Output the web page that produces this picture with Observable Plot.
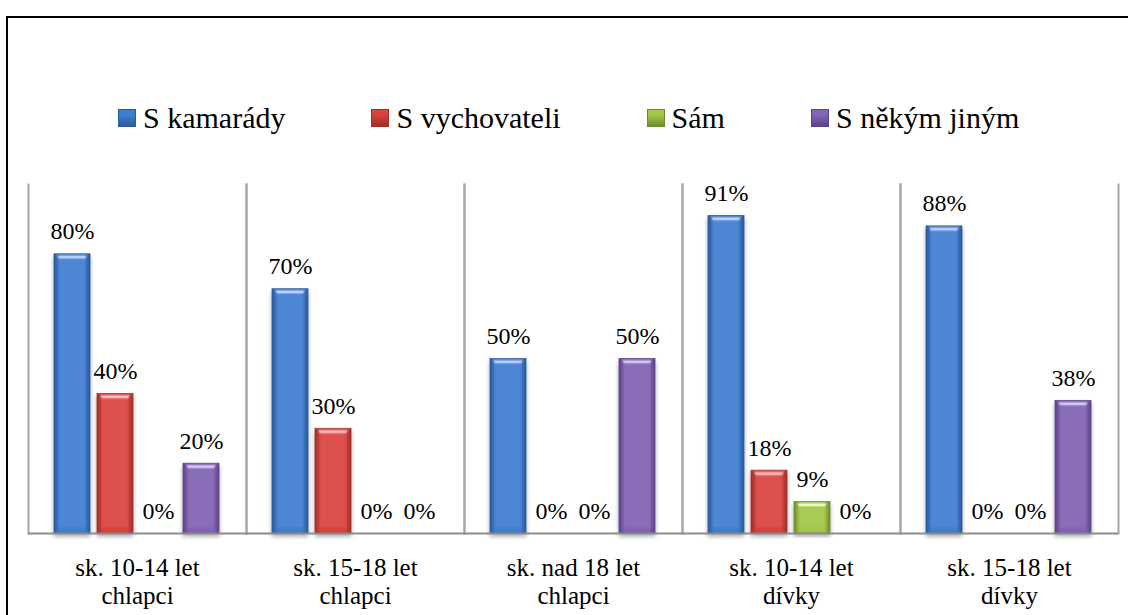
<!DOCTYPE html>
<html>
<head>
<meta charset="utf-8">
<script src="https://cdn.jsdelivr.net/npm/d3@7"></script>
<script src="https://cdn.jsdelivr.net/npm/@observablehq/plot@0.6"></script>
<style>
  html, body { margin: 0; padding: 0; background: #fff; }
  #wrap { position: relative; width: 1128px; height: 615px; overflow: hidden; font-family: "Liberation Serif", "LiberationSerif", Tinos, "Noto Serif", "DejaVu Serif", FreeSerif, "Nimbus Roman", "Nimbus Roman No9 L", "Times New Roman", Times, serif; }
  #border { position: absolute; left: 6px; top: 16px; width: 1200px; height: 700px; border: 2px solid #000; box-sizing: border-box; }
  #legend { position: absolute; left: 118px; top: 103px; display: flex; align-items: center; gap: 86px; font-size: 30px; color: #000; line-height: 30px; }
  .item { display: flex; align-items: center; gap: 7px; white-space: nowrap; }
  .sw { width: 18px; height: 18px; box-sizing: border-box; }
  #chart { position: absolute; left: 0; top: 150px; }
  #chart svg text { font-family: "Liberation Serif", "LiberationSerif", Tinos, "Noto Serif", "DejaVu Serif", FreeSerif, "Nimbus Roman", "Nimbus Roman No9 L", "Times New Roman", Times, serif; }
</style>
</head>
<body>
<div id="wrap">
  <div id="border"></div>
  <div id="legend"></div>
  <div id="chart"></div>
</div>
<script>
const groupLine1 = ["sk. 10-14 let", "sk. 15-18 let", "sk. nad 18 let", "sk. 10-14 let", "sk. 15-18 let"];
const groupLine2 = ["chlapci", "chlapci", "chlapci", "dívky", "dívky"];
const series = ["S kamarády", "S vychovateli", "Sám", "S někým jiným"];
const kamarady = [80, 70, 50, 91, 88];
const vychovateli = [40, 30, 0, 18, 0];
const sam = [0, 0, 0, 9, 0];
const nekymJinym = [20, 0, 50, 0, 38];
const seriesValues = [kamarady, vychovateli, sam, nekymJinym];
const edgeColors = ["#2c5b9c", "#a02e2a", "#6e8c2a", "#5c4386"];
const midColors = ["#3f7fd0", "#d8433e", "#a3c74a", "#8464b4"];

const groups = groupLine1.map((a, i) => a + " " + groupLine2[i]);
const data = [];
groups.forEach((g, gi) => series.forEach((s, si) => data.push({group: g, series: s, value: seriesValues[si][gi], si})));

// legend
const legend = document.getElementById("legend");
series.forEach((s, i) => {
  const it = document.createElement("div"); it.className = "item";
  const sw = document.createElement("div"); sw.className = "sw";
  sw.style.background = `linear-gradient(to bottom, ${midColors[i]} 0%, ${midColors[i]} 30%, ${edgeColors[i]} 100%)`;
  sw.style.border = `1px solid ${edgeColors[i]}`;
  const t = document.createElement("span"); t.textContent = s;
  it.appendChild(sw); it.appendChild(t); legend.appendChild(it);
});

const font = "Liberation Serif, Tinos, Noto Serif, DejaVu Serif, Times New Roman, Times, serif";
const svg = Plot.plot({
  width: 1128,
  height: 465,
  marginLeft: 27,
  marginRight: 9,
  marginTop: 34,
  marginBottom: 82,
  style: {fontFamily: font, background: "transparent", color: "#000"},
  fx: {domain: groups, padding: 0, label: null},
  x: {domain: series, paddingInner: 0.16, paddingOuter: 0.6, axis: null},
  y: {domain: [0, 100], axis: null},
  color: {type: "identity"},
  marks: [
    Plot.frame({anchor: "left", stroke: "#a6a6a6", strokeWidth: 2}),
    Plot.frame({anchor: "right", stroke: "#a6a6a6", strokeWidth: 2}),
    Plot.barY(data, {fx: "group", x: "series", y: "value", fill: d => `url(#grad${d.si})`, stroke: d => edgeColors[d.si], strokeWidth: 0.8}),
    Plot.ruleY([0], {stroke: "#8c8c8c", strokeWidth: 2}),
    Plot.text(data, {fx: "group", x: "series", y: "value", text: d => d.value + "%", dy: -15, lineAnchor: "bottom", fontSize: 24, fill: "#000"}),
    Plot.axisFx({anchor: "bottom", tickSize: 0, tickPadding: 25, fontSize: 25, label: null, tickFormat: d => groupLine1[groups.indexOf(d)]}),
    Plot.axisFx({anchor: "bottom", tickSize: 0, tickPadding: 53, fontSize: 25, label: null, tickFormat: d => groupLine2[groups.indexOf(d)]})
  ]
});

// gradients, bevel and shadow
const ns = "http://www.w3.org/2000/svg";
const defs = document.createElementNS(ns, "defs");
let html = "";
midColors.forEach((m, i) => {
  html += `<linearGradient id="grad${i}" x1="0" x2="1" y1="0" y2="0">
    <stop offset="0" stop-color="${edgeColors[i]}"/>
    <stop offset="0.16" stop-color="${m}"/>
    <stop offset="0.84" stop-color="${m}"/>
    <stop offset="1" stop-color="${edgeColors[i]}"/>
  </linearGradient>`;
});
html += `<filter id="bev" x="-20%" y="-10%" width="140%" height="125%">
  <feGaussianBlur in="SourceAlpha" stdDeviation="2.5" result="blur"/>
  <feSpecularLighting in="blur" surfaceScale="4" specularConstant="0.9" specularExponent="30" lighting-color="#ffffff" result="spec">
    <feDistantLight azimuth="270" elevation="40"/>
  </feSpecularLighting>
  <feComposite in="spec" in2="SourceAlpha" operator="in" result="specIn"/>
  <feComposite in="SourceGraphic" in2="specIn" operator="arithmetic" k1="0" k2="1" k3="0.55" k4="0" result="lit"/>
  <feGaussianBlur in="SourceAlpha" stdDeviation="2" result="sb"/>
  <feOffset in="sb" dx="0" dy="3" result="so"/>
  <feComponentTransfer in="so" result="sa"><feFuncA type="linear" slope="0.35"/></feComponentTransfer>
  <feMerge><feMergeNode in="sa"/><feMergeNode in="lit"/></feMerge>
</filter>`;
defs.innerHTML = html;
svg.insertBefore(defs, svg.firstChild);
svg.querySelectorAll('g[aria-label="bar"] rect').forEach(r => r.setAttribute("filter", "url(#bev)"));

document.getElementById("chart").appendChild(svg);
</script>
</body>
</html>
